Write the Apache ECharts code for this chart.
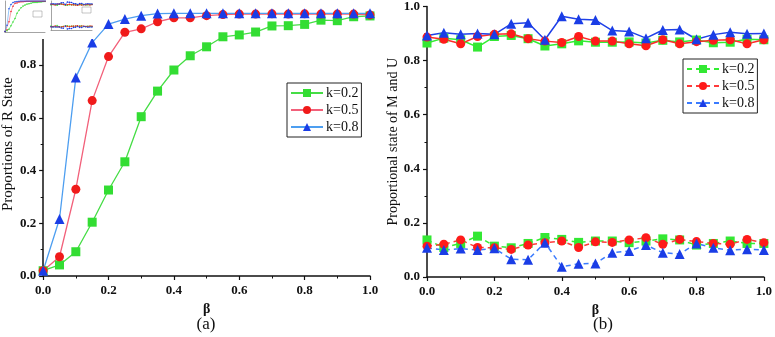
<!DOCTYPE html>
<html><head><meta charset="utf-8">
<script src="https://cdn.jsdelivr.net/npm/echarts@6/dist/echarts.min.js"></script>
<style>html,body{margin:0;padding:0;background:#fff}#c{width:775px;height:337px}</style>
</head><body><div id="c"></div>
<script>
const beta = [0,0.05,0.1,0.15,0.2,0.25,0.3,0.35,0.4,0.45,0.5,0.55,0.6,0.65,0.7,0.75,0.8,0.85,0.9,0.95,1.0];
// Panel (a): proportions of R state
const rK02 = [0.02,0.042,0.092,0.204,0.326,0.433,0.604,0.701,0.781,0.835,0.869,0.907,0.914,0.925,0.948,0.949,0.954,0.970,0.968,0.983,0.986];
const rK05 = [0.02,0.073,0.329,0.665,0.832,0.924,0.937,0.964,0.979,0.979,0.987,0.991,0.993,0.993,0.994,0.993,0.994,0.993,0.993,0.993,0.990];
const rK08 = [0.02,0.216,0.753,0.885,0.955,0.974,0.987,0.995,0.996,0.996,0.996,0.996,0.996,0.996,0.996,0.996,0.996,0.996,0.996,0.996,0.996];
// Panel (b): proportional state of M (upper) and U (lower)
const mK02 = [0.865,0.883,0.877,0.850,0.889,0.893,0.881,0.854,0.862,0.873,0.868,0.868,0.869,0.865,0.875,0.869,0.876,0.866,0.868,0.879,0.877];
const mK05 = [0.887,0.879,0.862,0.889,0.897,0.899,0.881,0.872,0.867,0.889,0.872,0.872,0.862,0.855,0.877,0.862,0.870,0.875,0.877,0.862,0.877];
const mK08 = [0.893,0.903,0.897,0.900,0.897,0.936,0.940,0.877,0.964,0.953,0.950,0.911,0.908,0.883,0.913,0.915,0.879,0.896,0.905,0.899,0.900];
const uK02 = [0.137,0.109,0.124,0.151,0.114,0.108,0.124,0.146,0.139,0.128,0.133,0.133,0.127,0.133,0.141,0.137,0.118,0.124,0.133,0.124,0.124];
const uK05 = [0.114,0.121,0.137,0.109,0.108,0.102,0.118,0.127,0.133,0.109,0.130,0.128,0.137,0.145,0.121,0.139,0.131,0.124,0.121,0.139,0.127];
const uK08 = [0.108,0.100,0.105,0.100,0.106,0.066,0.064,0.127,0.038,0.049,0.050,0.090,0.096,0.118,0.090,0.085,0.124,0.108,0.099,0.103,0.100];
const kLabels = ['k=0.2','k=0.5','k=0.8'];

const pairs = ys => beta.map((b,i)=>[b, ys[i]]);
const SERIF = '"Liberation Serif","DejaVu Serif",serif';

function mainX(gi){
  return {gridIndex:gi,type:'value',min:0,max:1,interval:0.2,
    axisLine:{show:true,lineStyle:{color:'#111',width:1.5}},
    axisTick:{show:true,length:4,inside:false,lineStyle:{color:'#111',width:1.2}},
    minorTick:{show:true,splitNumber:2,length:2.5,lineStyle:{color:'#111',width:1}},
    splitLine:{show:false},
    axisLabel:{margin:8,color:'#111',fontFamily:SERIF,fontWeight:'bold',fontSize:13,formatter:v=>v.toFixed(1)},
    name:'β',nameLocation:'middle',nameGap:24,
    nameTextStyle:{color:'#111',fontFamily:SERIF,fontWeight:'bold',fontSize:14}};
}
function mainY(gi,name,fs){
  return {gridIndex:gi,type:'value',min:0,max:1,interval:0.2,
    axisLine:{show:true,lineStyle:{color:'#111',width:1.5}},
    axisTick:{show:true,length:4,lineStyle:{color:'#111',width:1.2}},
    minorTick:{show:true,splitNumber:2,length:2.5,lineStyle:{color:'#111',width:1}},
    splitLine:{show:false},
    axisLabel:{margin:7,color:'#111',fontFamily:SERIF,fontWeight:'bold',fontSize:13,formatter:v=>v.toFixed(1)},
    name:name,nameLocation:'middle',nameGap:26,
    nameTextStyle:{color:'#111',fontFamily:SERIF,fontSize:fs}};
}
function miniAxis(gi){
  return {gridIndex:gi,type:'value',min:0,max:1,z:30,
    axisLine:{show:true,lineStyle:{color:'#666',width:0.6}},
    axisTick:{show:false},axisLabel:{show:false},splitLine:{show:false}};
}

const leftCols = [
  {line:'#45dd45',sym:'#33dd33',shape:'rect'},
  {line:'#f2607a',sym:'#f01a1a',shape:'circle'},
  {line:'#4d9ef0',sym:'#1a3de6',shape:'triangle'}];
const rightCols = [
  {line:'#33ee33',sym:'#33e833',shape:'rect'},
  {line:'#ff2a2a',sym:'#ff1a1a',shape:'circle'},
  {line:'#1f40e8',sym:'#1a3de6',shape:'triangle'}];
const rightDash = ['#33ee33','#ff3a3a','#3a7bff'];

const series = [];
[rK02,rK05,rK08].forEach((d,i)=>{
  series.push({name:'a:'+kLabels[i],type:'line',xAxisIndex:0,yAxisIndex:0,data:pairs(d),
    symbol:leftCols[i].shape,symbolSize:i===2?10:9,
    lineStyle:{color:leftCols[i].line,width:1.3},itemStyle:{color:leftCols[i].sym},z:3});
});
[mK02,mK05,mK08].forEach((d,i)=>{
  series.push({name:'m:'+kLabels[i],type:'line',xAxisIndex:1,yAxisIndex:1,data:pairs(d),
    symbol:rightCols[i].shape,symbolSize:i===2?10:9,
    lineStyle:{color:rightCols[i].line,width:1.5},itemStyle:{color:rightCols[i].sym},z:3});
});
[uK02,uK05,uK08].forEach((d,i)=>{
  series.push({name:'b:'+kLabels[i],type:'line',xAxisIndex:1,yAxisIndex:1,data:pairs(d),
    symbol:rightCols[i].shape,symbolSize:i===2?10:9,
    lineStyle:{color:rightDash[i],width:1.5,type:[5,4]},itemStyle:{color:rightCols[i].sym},z:3});
});
// thumbnail insets
[rK02,rK05,rK08].forEach((d,i)=>{
  series.push({name:'ta'+i,type:'line',xAxisIndex:2,yAxisIndex:2,data:pairs(d),
    symbol:'circle',symbolSize:1.5,lineStyle:{color:leftCols[i].line,width:0.6},
    itemStyle:{color:leftCols[i].sym},z:31,silent:true});
});
[mK02,mK05,mK08,uK02,uK05,uK08].forEach((d,i)=>{
  series.push({name:'tb'+i,type:'line',xAxisIndex:3,yAxisIndex:3,data:pairs(d),
    symbol:'circle',symbolSize:1.5,lineStyle:{color:rightCols[i%3].line,width:0.6,type:i>2?'dashed':'solid'},
    itemStyle:{color:rightCols[i%3].sym},z:31,silent:true});
});

const legendBase = {orient:'vertical',itemWidth:32,itemHeight:10,itemGap:3,padding:[3,3,3,3],
  borderColor:'#222',borderWidth:1,backgroundColor:'#fff',
  formatter:n=>n.slice(2),
  textStyle:{color:'#111',fontFamily:SERIF,fontSize:14,padding:[0,0,0,-2]}};

const chart = echarts.init(document.getElementById('c'));
chart.setOption({
  animation:false,
  backgroundColor:'#fff',
  grid:[
    {left:43,top:12.25,width:327,height:263.75},
    {left:427,top:6,width:340,height:271},
    {left:5,top:1,width:40,height:31,z:30},
    {left:51,top:1,width:41,height:29,z:30}
  ],
  xAxis:[mainX(0),mainX(1),miniAxis(2),miniAxis(3)],
  yAxis:[mainY(0,'Proportions of R State',15),mainY(1,'Proportional state of M and U',14),miniAxis(2),miniAxis(3)],
  legend:[
    Object.assign({},legendBase,{left:287,top:83,data:kLabels.map(k=>'a:'+k)}),
    Object.assign({},legendBase,{left:683,top:59,data:kLabels.map(k=>'b:'+k)})
  ],
  graphic:[
    {type:'rect',shape:{x:0,y:0,width:95,height:39},style:{fill:'#fff'},z:20},
    {type:'rect',shape:{x:33,y:11,width:9,height:6},style:{fill:'#fff',stroke:'#888',lineWidth:0.5},z:40},
    {type:'rect',shape:{x:82,y:7,width:9,height:6},style:{fill:'#fff',stroke:'#888',lineWidth:0.5},z:40},
    {type:'text',x:206,y:325,style:{text:'(a)',font:'17px '+SERIF,fill:'#111',align:'center',verticalAlign:'middle'},z:40},
    {type:'text',x:603,y:325,style:{text:'(b)',font:'17px '+SERIF,fill:'#111',align:'center',verticalAlign:'middle'},z:40}
  ],
  series:series
});
</script></body></html>
